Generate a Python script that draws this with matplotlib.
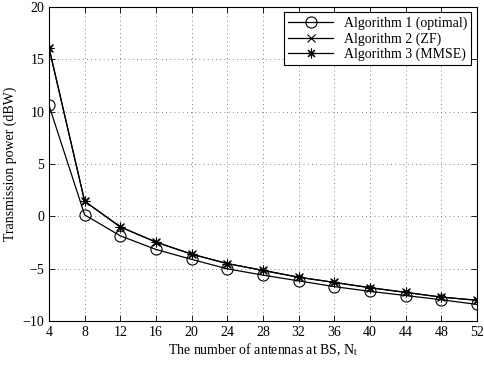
"""
Transmission power versus number of BS antennas for three algorithms.
"""

import matplotlib
matplotlib.use("Agg")
import matplotlib.pyplot as plot

antennas = [4, 8, 12, 16, 20, 24, 28, 32, 36, 40, 44, 48, 52]
alg1_optimal = [10.6, 0.15, -1.85, -3.15, -4.1, -5.0, -5.6, -6.15, -6.7, -7.15, -7.55, -7.95, -8.4]
alg2_zf = [16.1, 1.45, -1.0, -2.45, -3.6, -4.5, -5.15, -5.8, -6.3, -6.8, -7.25, -7.7, -8.0]
alg3_mmse = [16.1, 1.45, -1.0, -2.45, -3.6, -4.5, -5.15, -5.8, -6.3, -6.8, -7.25, -7.7, -8.0]

plot.rcParams["font.family"] = ["Liberation Serif", "DejaVu Serif"]
plot.rcParams["mathtext.fontset"] = "stix"
plot.rcParams["font.size"] = 10

figure = plot.figure(figsize=(4.85, 3.65), dpi=100)
axes = figure.add_axes([0.101, 0.12, 0.8825, 0.861])

axes.plot(antennas, alg1_optimal, color="black", linewidth=0.9, marker="o",
          markersize=8, markerfacecolor="none", markeredgewidth=0.8,
          label="Algorithm 1 (optimal)")
axes.plot(antennas, alg2_zf, color="black", linewidth=0.9, marker="x",
          markersize=5.5, markeredgewidth=0.8, label="Algorithm 2 (ZF)")
axes.plot(antennas, alg3_mmse, color="black", linewidth=0.9, marker=(8, 2, 0),
          markersize=7, markeredgewidth=0.8, label="Algorithm 3 (MMSE)")

axes.set_xlim(4, 52)
axes.set_ylim(-10, 20)
axes.set_xticks(antennas)
axes.set_yticks(range(-10, 21, 5))
axes.grid(True, linestyle=(0, (1, 4)), color="0.35", linewidth=0.6)
axes.tick_params(direction="in", top=True, right=True, length=4, width=0.6,
                 labelsize=10)
for spine in axes.spines.values():
  spine.set_linewidth(0.8)

axes.set_xlabel("The number of antennas at BS, N$_\\mathrm{t}$", fontsize=10, labelpad=2)
axes.set_ylabel("Transmission power (dBW)", fontsize=10, labelpad=4)

legend = axes.legend(loc="upper right", fancybox=False, edgecolor="black",
                     framealpha=1, fontsize=10, borderaxespad=0.4,
                     handlelength=3.2, borderpad=0.3, labelspacing=0.15)
legend.get_frame().set_linewidth(0.8)

figure.savefig("out.png", dpi=100)
plot.close()
